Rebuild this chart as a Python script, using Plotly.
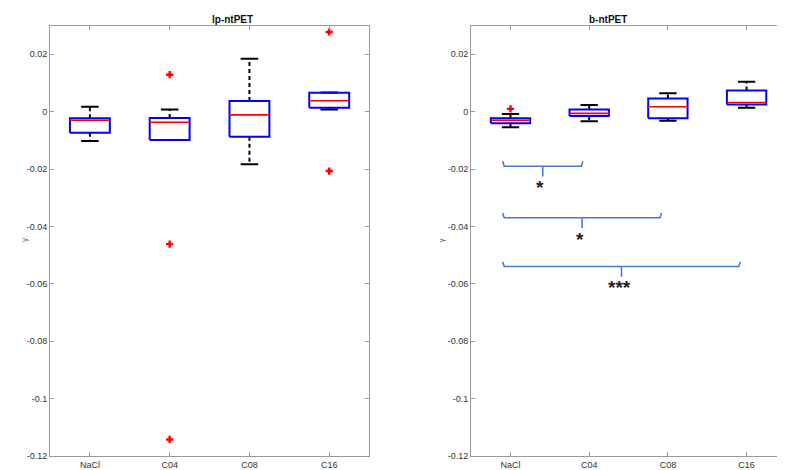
import plotly.graph_objects as go

categories = ["NaCl", "C04", "C08", "C16"]

# lp-ntPET box statistics
lp_lower = [-0.0102, -0.0099, -0.0183, 0.0008]
lp_q1 = [-0.0073, -0.0099, -0.0087, 0.0014]
lp_median = [-0.0030, -0.0037, -0.0011, 0.0038]
lp_q3 = [-0.0023, -0.0022, 0.0037, 0.0066]
lp_upper = [0.0017, 0.0008, 0.0185, 0.0067]
lp_outliers = [[], [0.0129, -0.0462, -0.1143], [], [0.0278, -0.0207]]

# b-ntPET box statistics
b_lower = [-0.0054, -0.0033, -0.0032, 0.0014]
b_q1 = [-0.0040, -0.0015, -0.0023, 0.0025]
b_median = [-0.0030, -0.0006, 0.0017, 0.0032]
b_q3 = [-0.0023, 0.0008, 0.0046, 0.0074]
b_upper = [-0.0008, 0.0023, 0.0064, 0.0104]
b_outliers = [[0.0010], [], [], []]

# significance comparisons (b-ntPET)
comp_from = ["NaCl", "NaCl", "NaCl"]
comp_to = ["C04", "C08", "C16"]
comp_level = [-0.019, -0.037, -0.054]
comp_label = ["*", "*", "***"]

y_ticks = [0.02, 0, -0.02, -0.04, -0.06, -0.08, -0.1, -0.12]
y_ticktext = ["0.02", "0", "-0.02", "-0.04", "-0.06", "-0.08", "-0.1", "-0.12"]

fig = go.Figure()

BOX_HALF = 0.25
CAP_HALF = 0.11


def add_boxes(xa, ya, lower, q1, med, q3, upper, outl):
    for i, _ in enumerate(categories):
        x = i + 1
        # whiskers (dashed)
        for a, b in ((q3[i], upper[i]), (q1[i], lower[i])):
            fig.add_trace(go.Scatter(x=[x, x], y=[a, b], mode="lines", xaxis=xa, yaxis=ya,
                                     line=dict(color="black", width=2, dash="4px,3px"),
                                     hoverinfo="skip", showlegend=False))
        # caps
        for v in (upper[i], lower[i]):
            fig.add_trace(go.Scatter(x=[x - CAP_HALF, x + CAP_HALF], y=[v, v], mode="lines",
                                     xaxis=xa, yaxis=ya, line=dict(color="black", width=2),
                                     hoverinfo="skip", showlegend=False))
        # box
        fig.add_trace(go.Scatter(x=[x - BOX_HALF, x + BOX_HALF, x + BOX_HALF, x - BOX_HALF, x - BOX_HALF],
                                 y=[q1[i], q1[i], q3[i], q3[i], q1[i]], mode="lines",
                                 xaxis=xa, yaxis=ya, line=dict(color="#0000ff", width=2),
                                 hoverinfo="skip", showlegend=False))
        # median
        fig.add_trace(go.Scatter(x=[x - BOX_HALF, x + BOX_HALF], y=[med[i], med[i]], mode="lines",
                                 xaxis=xa, yaxis=ya, line=dict(color="#ff0000", width=1.6),
                                 hoverinfo="skip", showlegend=False))
        if outl[i]:
            fig.add_trace(go.Scatter(x=[x] * len(outl[i]), y=outl[i], mode="markers",
                                     xaxis=xa, yaxis=ya,
                                     marker=dict(symbol="cross", size=6, color="#ff0000"),
                                     hoverinfo="skip", showlegend=False))


add_boxes("x", "y", lp_lower, lp_q1, lp_median, lp_q3, lp_upper, lp_outliers)
add_boxes("x2", "y2", b_lower, b_q1, b_median, b_q3, b_upper, b_outliers)

# braces
TIP = 0.0017
STEM = 0.0036
for f, t, lvl, lab in zip(comp_from, comp_to, comp_level, comp_label):
    x0 = categories.index(f) + 1 - 0.1
    x1 = categories.index(t) + 1 - 0.08
    xm = (x0 + x1) / 2
    fig.add_trace(go.Scatter(
        x=[x0, x0 + 0.02, xm, xm, xm, x1 - 0.02, x1],
        y=[lvl + TIP, lvl, lvl, lvl - STEM, lvl, lvl, lvl + TIP],
        mode="lines", xaxis="x2", yaxis="y2",
        line=dict(color="#4a7bc8", width=1.6), hoverinfo="skip", showlegend=False))
    fig.add_annotation(x=xm - 0.03, y=lvl - STEM - 0.0038, xref="x2", yref="y2",
                       text="<b>" + lab + "</b>",
                       showarrow=False, yanchor="middle",
                       font=dict(family="Arial", size=19, color="#222222"))

axis_common = dict(showline=True, linecolor="#9a9a9a", linewidth=1, mirror="ticks",
                   ticks="inside", ticklen=4, tickcolor="#9a9a9a", showgrid=False,
                   zeroline=False, tickfont=dict(family="Arial", size=9, color="#333333"))

fig.update_layout(
    width=785, height=470,
    margin=dict(l=0, r=0, t=0, b=0),
    paper_bgcolor="white", plot_bgcolor="white",
    xaxis=dict(domain=[0.0535, 0.46], range=[0.5, 4.5], tickvals=[1, 2, 3, 4],
               ticktext=categories, anchor="y", **axis_common),
    yaxis=dict(domain=[0.037, 0.962], range=[-0.12, 0.03], tickvals=y_ticks,
               ticktext=y_ticktext, anchor="x", **axis_common),
    xaxis2=dict(domain=[0.59, 0.991], range=[0.5, 4.5], tickvals=[1, 2, 3, 4],
                ticktext=categories, anchor="y2", **axis_common),
    yaxis2=dict(domain=[0.037, 0.962], range=[-0.12, 0.03], tickvals=y_ticks,
                ticktext=y_ticktext, anchor="x2", **axis_common),
)

for xc, title in ((0.2568, "lp-ntPET"), (0.7905, "b-ntPET")):
    fig.add_annotation(x=xc, y=1 - 11.5 / 470, xref="paper", yref="paper",
                       text="<b>" + title + "</b>", showarrow=False, yanchor="middle",
                       font=dict(family="Arial", size=10, color="#111111"))

for xp in (10 / 785, 433 / 785):
    fig.add_annotation(x=xp, y=1 - 235 / 470, xref="paper", yref="paper", text="γ",
                       showarrow=False, textangle=-90,
                       font=dict(family="Arial", size=8, color="#555555"))

fig.write_html("out.html")
